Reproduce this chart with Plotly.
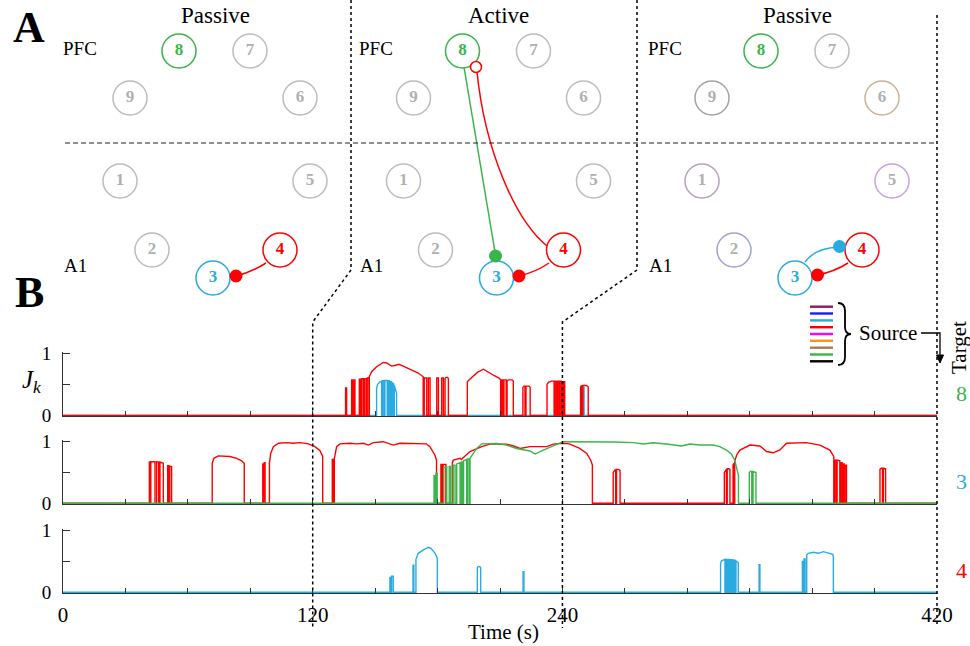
import plotly.graph_objects as go

W, H = 970, 646
T_MAX = 420
SERIF = "Liberation Serif"

RED = "#FF0000"
BLUE = "#29ABE2"
GREEN = "#39B54A"
GRAY = "#BDBDBD"

# ---------------------------------------------------------------------------
# Panel B: coupling strength J_k(t). Each episode is a list of (t [s], J)
# vertices; J is 0 between episodes.
# ---------------------------------------------------------------------------
# target 8, source 4 (red)
j8_src4 = [
    [(135.8, 0.44), (136.3, 0.44)],
    [(138.7, 0.57), (139.2, 0.57)],
    [(139.8, 0.57), (140.3, 0.57)],
    [(142.4, 0.58), (143.0, 0.58)],
    [(143.5, 0.59), (144.3, 0.59)],
    [(144.8, 0.59), (145.6, 0.59)],
    [(146.2, 0.60), (147.0, 0.60)],
    [(147.2, 0.62), (148.3, 0.70), (150.7, 0.78), (153.9, 0.85), (155.5, 0.84),
     (157.9, 0.79), (159.5, 0.80), (161.4, 0.82), (163.5, 0.79), (166.7, 0.74),
     (170.7, 0.68), (173.1, 0.62)],
    [(173.6, 0.60), (174.8, 0.60)],
    [(175.6, 0.60), (176.4, 0.60)],
    [(179.6, 0.60), (180.4, 0.60)],
    [(182.0, 0.60), (182.8, 0.60)],
    [(183.6, 0.59), (184.0, 0.61), (184.8, 0.61), (185.2, 0.59)],
    [(194.3, 0.54), (195.1, 0.57), (196.7, 0.62), (199.1, 0.69), (202.0, 0.74),
     (203.9, 0.70), (207.1, 0.64), (209.5, 0.60), (210.3, 0.57)],
    [(210.8, 0.57), (211.3, 0.57)],
    [(211.9, 0.57), (213.0, 0.57)],
    [(213.4, 0.55), (214.0, 0.57), (215.8, 0.57), (216.4, 0.55)],
    [(221.0, 0.45), (221.5, 0.47), (222.0, 0.47)],
    [(222.5, 0.47), (224.0, 0.47), (224.5, 0.45)],
    [(232.6, 0.50), (233.3, 0.53), (234.7, 0.55), (236.0, 0.55)],
    [(236.5, 0.55), (237.2, 0.55)],
    [(237.6, 0.55), (238.3, 0.55)],
    [(238.7, 0.55), (239.4, 0.55)],
    [(239.8, 0.54), (240.4, 0.54)],
    [(240.7, 0.54), (241.1, 0.54)],
    [(248.7, 0.46), (249.3, 0.48)],
    [(249.8, 0.48), (251.5, 0.48), (252.4, 0.46)],
]
# target 8, source 3 (blue)
j8_src3 = [
    [(150.7, 0.44), (151.2, 0.50), (152.3, 0.54), (153.1, 0.55)],
    [(153.5, 0.555), (154.2, 0.555)],
    [(154.7, 0.56), (155.8, 0.56)],
    [(156.2, 0.555), (156.8, 0.555)],
    [(157.3, 0.54), (157.9, 0.54)],
    [(158.3, 0.52), (158.9, 0.51)],
    [(159.2, 0.48), (159.8, 0.42), (160.3, 0.36)],
    [(250.0, 0.45), (250.4, 0.45)],
]
# target 3, source 4 (red)
j3_src4 = [
    [(41.5, 0.67), (41.9, 0.67)],
    [(42.2, 0.675), (44.2, 0.675)],
    [(45.0, 0.675), (46.0, 0.67)],
    [(46.6, 0.67), (47.6, 0.665), (48.2, 0.65)],
    [(50.3, 0.61), (50.9, 0.61)],
    [(51.3, 0.60), (52.2, 0.60)],
    [(71.7, 0.65), (72.5, 0.73), (74.6, 0.77), (78.6, 0.76), (80.2, 0.76),
     (83.5, 0.73), (85.8, 0.69), (87.1, 0.65)],
    [(96.0, 0.64), (96.4, 0.64)],
    [(96.7, 0.66), (97.1, 0.66)],
    [(99.2, 0.65), (99.8, 0.81), (101.1, 0.92), (103.5, 0.975), (107.5, 0.985),
     (110.7, 0.975), (113.9, 0.985), (117.9, 0.965), (121.1, 0.92), (123.5, 0.855),
     (124.8, 0.76)],
    [(129.4, 0.71), (129.9, 0.71)],
    [(130.4, 0.73), (131.5, 0.92), (133.1, 0.965), (137.9, 0.975), (141.0, 0.965),
     (144.3, 0.975), (146.7, 0.945), (149.1, 0.985), (153.9, 1.0), (158.7, 0.945),
     (161.9, 0.975), (168.3, 0.975), (174.7, 0.965), (176.3, 0.92), (178.7, 0.785),
     (179.5, 0.70)],
    [(181.6, 0.63), (182.1, 0.63)],
    [(182.7, 0.63), (184.0, 0.63)],
    [(187.1, 0.66), (187.6, 0.70), (190.8, 0.73), (191.5, 0.71), (192.3, 0.74),
     (195.6, 0.84), (201.2, 0.92), (205.2, 0.96), (213.2, 0.96), (216.5, 0.93),
     (219.6, 0.89), (224.4, 0.92), (232.4, 0.92), (235.6, 0.96), (240.2, 0.975),
     (243.3, 0.965), (248.3, 0.89), (251.7, 0.81), (253.6, 0.70), (254.4, 0.62)],
    [(264.4, 0.50), (265.0, 0.53), (265.6, 0.55)],
    [(266.0, 0.55), (267.0, 0.55), (267.7, 0.53)],
    [(317.8, 0.50), (318.8, 0.55)],
    [(319.2, 0.56), (320.0, 0.56), (320.5, 0.55)],
    [(322.0, 0.62), (322.4, 0.65)],
    [(322.8, 0.68), (323.7, 0.78), (325.3, 0.865), (326.9, 0.89), (330.1, 0.945),
     (334.9, 0.93), (338.1, 0.84), (341.3, 0.82), (344.5, 0.865), (347.7, 0.975),
     (352.0, 0.985), (357.3, 0.985), (363.7, 0.945), (368.5, 0.865), (370.4, 0.76)],
    [(370.8, 0.70), (371.5, 0.70)],
    [(372.0, 0.70), (373.3, 0.69)],
    [(373.8, 0.66), (374.4, 0.66)],
    [(374.8, 0.64), (375.4, 0.64)],
    [(375.8, 0.62), (376.5, 0.62)],
    [(392.6, 0.55), (393.2, 0.57), (393.8, 0.57)],
    [(394.2, 0.57), (395.3, 0.56)],
]
# target 3, source 8 (green)
j3_src8 = [
    [(178.3, 0.45), (178.8, 0.45)],
    [(179.3, 0.49), (179.8, 0.49)],
    [(183.0, 0.58), (184.4, 0.59)],
    [(185.6, 0.60), (186.3, 0.60)],
    [(187.5, 0.62), (188.4, 0.62)],
    [(189.2, 0.64), (190.8, 0.66)],
    [(191.5, 0.67), (192.1, 0.67)],
    [(192.5, 0.69), (194.0, 0.71)],
    [(194.4, 0.72), (195.2, 0.72)],
    [(195.6, 0.73), (197.2, 0.81), (198.8, 0.89), (201.2, 0.965), (208.4, 0.97),
     (213.2, 0.945), (218.0, 0.89), (224.4, 0.85), (226.8, 0.80), (230.8, 0.865),
     (234.8, 0.92), (238.0, 0.955), (240.4, 1.0), (264.4, 0.995), (274.0, 0.985),
     (278.8, 0.963), (283.6, 0.984), (290.0, 0.963), (294.8, 0.946), (297.2, 0.93),
     (301.2, 0.963), (306.0, 0.946), (312.4, 0.946), (315.6, 0.92), (318.8, 0.865),
     (321.2, 0.80), (322.8, 0.70), (323.9, 0.54), (324.6, 0.45)],
    [(329.8, 0.50), (330.4, 0.52), (331.0, 0.515)],
    [(331.6, 0.515), (333.0, 0.50)],
]
# target 4, source 3 (blue)
j4_src3 = [
    [(157.1, 0.24), (157.5, 0.24)],
    [(157.9, 0.26), (158.7, 0.26)],
    [(168.2, 0.44), (168.6, 0.44)],
    [(169.6, 0.535), (170.7, 0.633), (173.2, 0.687), (175.6, 0.73), (176.8, 0.714),
     (178.8, 0.633), (179.9, 0.55)],
    [(199.1, 0.40), (199.5, 0.42), (200.3, 0.415), (200.7, 0.40)],
    [(221.1, 0.335), (221.5, 0.335)],
    [(316.0, 0.47), (316.5, 0.51), (317.3, 0.53), (318.1, 0.535)],
    [(318.5, 0.535), (318.9, 0.535)],
    [(319.3, 0.535), (319.7, 0.535)],
    [(320.1, 0.53), (320.5, 0.53)],
    [(320.9, 0.53), (321.3, 0.53)],
    [(321.7, 0.525), (322.1, 0.525)],
    [(322.5, 0.52), (323.0, 0.52)],
    [(323.4, 0.51), (324.0, 0.50), (324.5, 0.48)],
    [(334.5, 0.45), (334.9, 0.45)],
    [(355.3, 0.50), (355.8, 0.50)],
    [(356.1, 0.54), (356.6, 0.54)],
    [(357.4, 0.605), (358.2, 0.633), (360.6, 0.65), (363.0, 0.633), (365.4, 0.66),
     (367.8, 0.633), (369.9, 0.616), (370.2, 0.578)],
]

# panel rows: (target label, label colour, [(episodes, colour), ...] in draw order)
rows = [
    ("8", GREEN, [(j8_src3, BLUE), (j8_src4, RED)]),
    ("3", BLUE, [(j3_src4, RED), (j3_src8, GREEN)]),
    ("4", RED, [(j4_src3, BLUE)]),
]

x_ticks = list(range(0, T_MAX + 1, 30))
x_tick_labels = {0: "0", 120: "120", 240: "240", 420: "420"}
phase_bounds = [120, 240, 420]

# Panel A: network graph
node_xy = {8: (179, 51), 7: (250, 51), 9: (130, 98), 6: (300, 98), 1: (120, 181),
           5: (310, 181), 2: (152, 250), 4: (280, 250), 3: (213, 278)}
section_dx = [0, 283.5, 582]
section_titles = ["Passive", "Active", "Passive"]
section_left = [61, 357, 646]
node_line = [
    {8: GREEN, 3: BLUE, 4: RED},
    {8: GREEN, 3: BLUE, 4: RED},
    {8: GREEN, 3: BLUE, 4: RED, 9: "#A3A3A3", 6: "#CDB296", 1: "#B7A3B7",
     5: "#C9A3DA", 2: "#A3A3CF"},
]
node_text = {8: GREEN, 3: BLUE, 4: RED}
source_colors = ["#8E1B5C", "#1A1AFF", BLUE, RED, "#FF00FF", "#F7941D",
                 "#A67C52", GREEN, "#000000"]

# ---------------------------------------------------------------------------
X_L, X_R = 63, 937                     # pixel span of t = 0 .. 420
row_px = [(415.5, 353.0), (503.3, 441.7), (592.3, 530.7)]  # (J=0, J=1) pixel rows
Y_LO, Y_HI = -0.015, 1.02


def t_px(t):
    return X_L + (X_R - X_L) * t / T_MAX


def episodes_xy(episodes):
    xs, ys = [0.0], [0.0]
    for ep in episodes:
        xs.append(ep[0][0]); ys.append(0.0)
        for t, j in ep:
            xs.append(t); ys.append(j)
        xs.append(ep[-1][0]); ys.append(0.0)
    xs.append(float(T_MAX)); ys.append(0.0)
    return xs, ys


fig = go.Figure()
layout_axes = {}
for i, (label, lcol, series) in enumerate(rows):
    k = "" if i == 0 else str(i + 1)
    for eps, col in series:
        xs, ys = episodes_xy(eps)
        fig.add_trace(go.Scatter(x=xs, y=ys, mode="lines", xaxis="x" + k, yaxis="y" + k,
                                 line=dict(color=col, width=1.4), hoverinfo="skip"))
    p0, p1 = row_px[i]
    u = p0 - p1
    bottom = p0 - Y_LO * u
    top = p0 - Y_HI * u
    last = i == len(rows) - 1
    layout_axes["xaxis" + k] = dict(
        domain=[X_L / W, X_R / W], range=[0, T_MAX], anchor="y" + k, automargin=False,
        showline=True, linecolor="#333", linewidth=1, showgrid=False, zeroline=False,
        ticks="inside", ticklen=5, tickwidth=1, tickcolor="#333",
        tickvals=x_ticks,
        ticktext=[x_tick_labels.get(v, " ") if last else " " for v in x_ticks],
        tickfont=dict(family=SERIF, size=21, color="black"), ticklabelstandoff=3,
    )
    layout_axes["yaxis" + k] = dict(
        domain=[1 - bottom / H, 1 - top / H], range=[Y_LO, Y_HI], anchor="x" + k,
        automargin=False,
        showline=True, linecolor="#333", linewidth=1, showgrid=False, zeroline=False,
        ticks="inside", ticklen=7, tickwidth=1, tickcolor="#333",
        tickvals=[0, 0.5, 1], ticktext=["0", " ", "1"],
        tickfont=dict(family=SERIF, size=19, color="black"), ticklabelstandoff=7,
    )

# overlay axes in pixel units for the network diagram and decorations
layout_axes["xaxis4"] = dict(domain=[0, 1], range=[0, W], visible=False, anchor="y4",
                             automargin=False)
layout_axes["yaxis4"] = dict(domain=[0, 1], range=[H, 0], visible=False, anchor="x4",
                             automargin=False)

shapes = []
annotations = []


def text(x, y, s, size, color="black", bold=False, xanchor="center", angle=0):
    annotations.append(dict(x=x, y=y, xref="x4", yref="y4", text=f"<b>{s}</b>" if bold else s,
                            showarrow=False, xanchor=xanchor, yanchor="middle",
                            textangle=angle,
                            font=dict(family=SERIF, size=size, color=color)))


def path(d, color, width=1.5, dash="solid", fill=None):
    shapes.append(dict(type="path", path=d, xref="x4", yref="y4", layer="above",
                       line=dict(color=color, width=width, dash=dash),
                       fillcolor=fill if fill else "rgba(0,0,0,0)"))


# connections between nodes
path("M 266,263 Q 252,272 236,276", RED)
path("M 464,67 L 495,252", GREEN)
path("M 547,246 C 515,220 485,150 477,72", RED)
path("M 549,263 Q 536,272 519,276", RED)
path("M 848,263 Q 834,272 817,275", RED)
path("M 805,262 Q 815,248 839,247", BLUE)

# region divider and phase boundaries
path("M 65,143 L 937,143", "#222", width=1, dash="5px,3px")
path(f"M 351,0 L 351,270 L {t_px(phase_bounds[0])},322 L {t_px(phase_bounds[0])},628",
     "black", width=1.5, dash="dot")
path(f"M 637,0 L 637,270 L {t_px(phase_bounds[1])},322 L {t_px(phase_bounds[1])},628",
     "black", width=1.5, dash="dot")
path(f"M {t_px(phase_bounds[2])},15 L {t_px(phase_bounds[2])},627", "black", width=1.5, dash="dot")

# source legend
for i, c in enumerate(source_colors):
    yy = 306.7 + i * 6.83
    path(f"M 810,{yy:.1f} L 833,{yy:.1f}", c, width=2.4)
path("M 838,303 Q 845,303 845,311 L 845,327 Q 845,334 851,334 Q 845,334 845,341 "
     "L 845,357 Q 845,365 838,365", "black", width=1.8)
path("M 921,333 L 940,333 L 940,356", "black", width=1.3)
path("M 936.5,355 L 943.5,355 L 940,363 Z", "black", width=1, fill="black")

# nodes
nx, ny, ncol, ntxt, nlab = [], [], [], [], []
for s, dx in enumerate(section_dx):
    for n, (x, y) in node_xy.items():
        nx.append(x + dx); ny.append(y)
        ncol.append(node_line[s].get(n, GRAY))
        ntxt.append(node_text.get(n, "#B0B0B0"))
        nlab.append(f"<b>{n}</b>")
fig.add_trace(go.Scatter(
    x=nx, y=ny, xaxis="x4", yaxis="y4", mode="markers+text", text=nlab,
    textposition="middle center", textfont=dict(family=SERIF, size=17, color=ntxt),
    marker=dict(size=34, color="white", line=dict(color=ncol, width=1.5)),
    hoverinfo="skip", cliponaxis=False))

# synapse endpoints
fig.add_trace(go.Scatter(
    x=[236, 495.5, 519, 817.5, 839.5], y=[276, 256, 276, 275, 246.5],
    xaxis="x4", yaxis="y4", mode="markers",
    marker=dict(size=13, color=[RED, GREEN, RED, RED, BLUE], line=dict(width=0)),
    hoverinfo="skip", cliponaxis=False))
fig.add_trace(go.Scatter(
    x=[476], y=[67], xaxis="x4", yaxis="y4", mode="markers",
    marker=dict(size=11, color="white", line=dict(color=RED, width=1.5)),
    hoverinfo="skip", cliponaxis=False))

# labels
text(29, 27, "A", 44, bold=True)
text(29, 292, "B", 44, bold=True)
for s, dx in enumerate(section_dx):
    text(215 + dx, 15, section_titles[s], 23)
    text(section_left[s], 48, "PFC", 19, xanchor="left")
    text(section_left[s] + 1, 265, "A1", 19, xanchor="left")
text(888, 333, "Source", 21)
text(959, 348, "Target", 21, angle=-90)
for i, (label, lcol, _) in enumerate(rows):
    p0, p1 = row_px[i]
    text(961, (p0 + p1) / 2 + 9, label, 22, color=lcol)
text(32, 381, "<i>J</i><sub><i>k</i></sub>", 25)
text(503, 632, "Time (s)", 21)

fig.update_layout(
    width=W, height=H, margin=dict(l=0, r=0, t=0, b=0, pad=0), autosize=False,
    paper_bgcolor="white", plot_bgcolor="rgba(0,0,0,0)",
    showlegend=False, shapes=shapes, annotations=annotations,
    **layout_axes,
)
# let the figure fill the page edge to edge
fig.write_html("out.html", post_script="document.body.style.margin='0';")
